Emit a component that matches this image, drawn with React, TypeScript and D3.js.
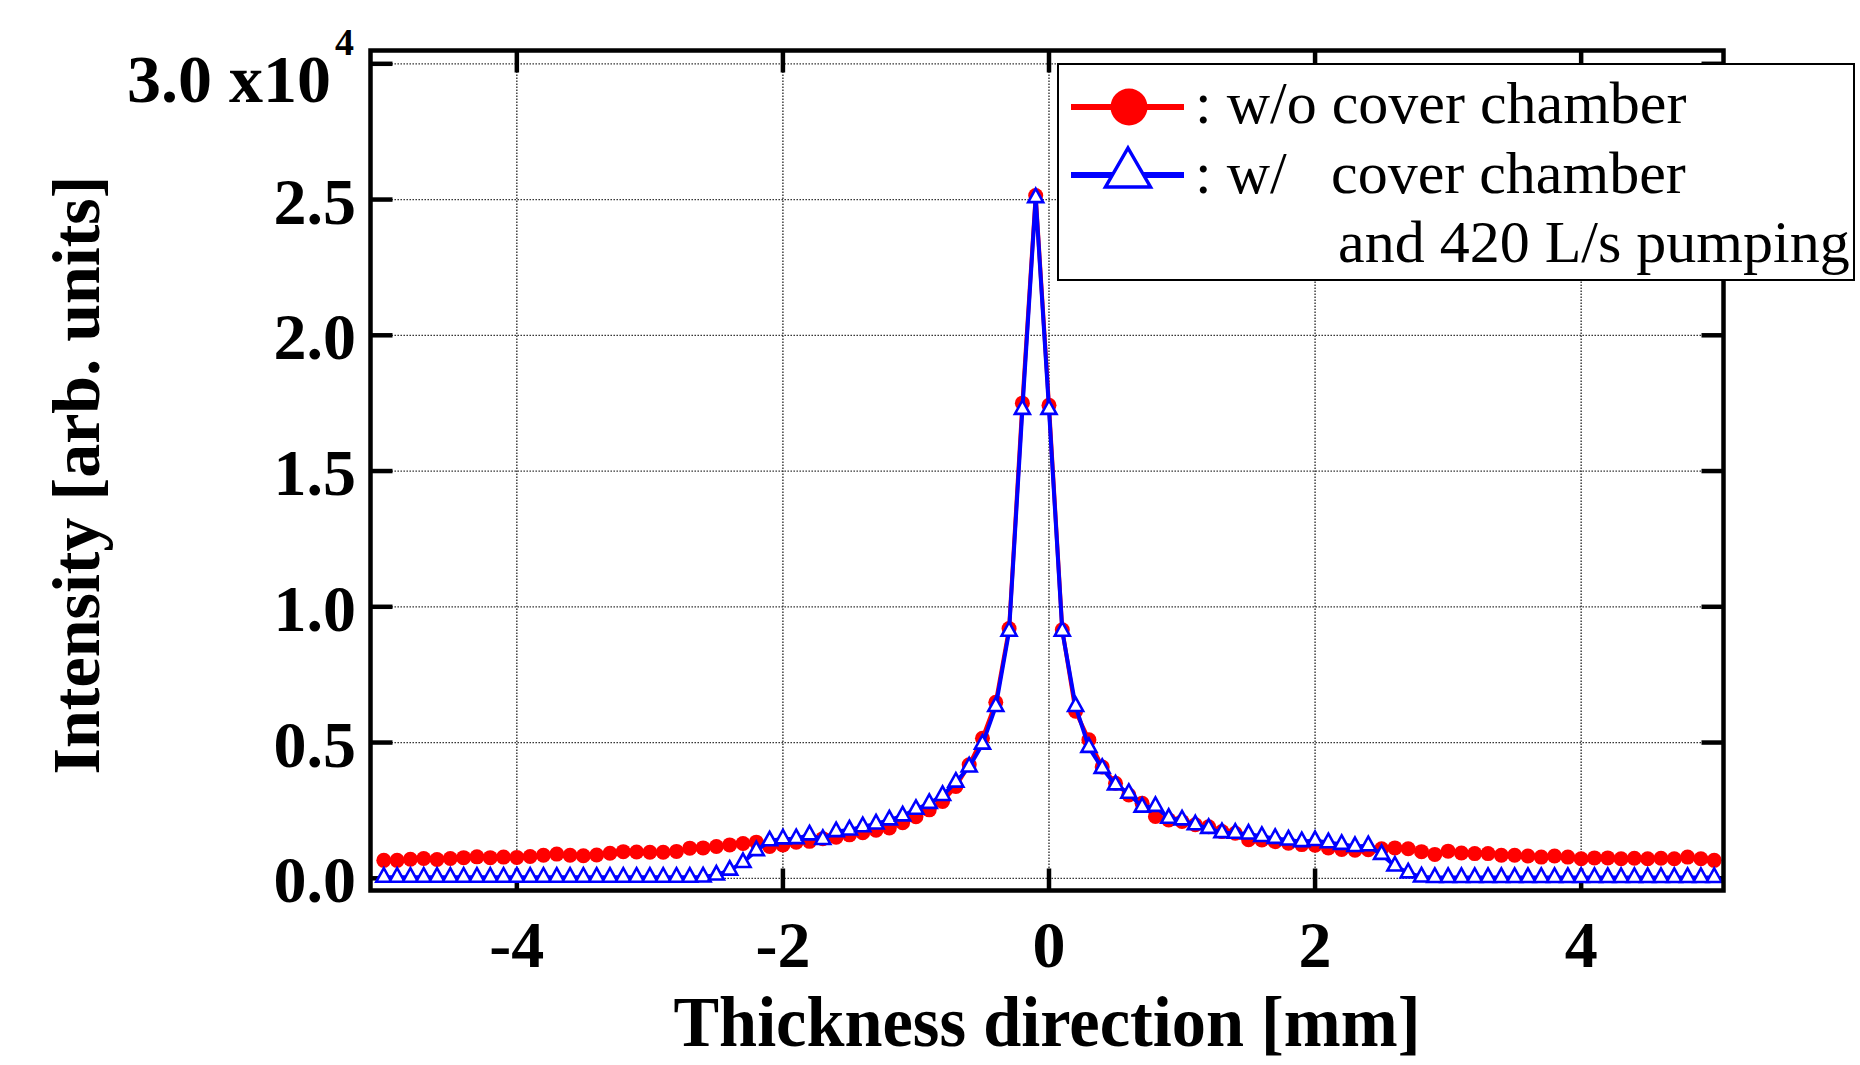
import React from "react";
import * as d3 from "d3";

const xValues = [
  -5.0, -4.9, -4.8, -4.7, -4.6, -4.5, -4.4, -4.3, -4.2, -4.1,
  -4.0, -3.9, -3.8, -3.7, -3.6, -3.5, -3.4, -3.3, -3.2, -3.1,
  -3.0, -2.9, -2.8, -2.7, -2.6, -2.5, -2.4, -2.3, -2.2, -2.1,
  -2.0, -1.9, -1.8, -1.7, -1.6, -1.5, -1.4, -1.3, -1.2, -1.1,
  -1.0, -0.9, -0.8, -0.7, -0.6, -0.5, -0.4, -0.3, -0.2, -0.1,
  0.0, 0.1, 0.2, 0.3, 0.4, 0.5, 0.6, 0.7, 0.8, 0.9,
  1.0, 1.1, 1.2, 1.3, 1.4, 1.5, 1.6, 1.7, 1.8, 1.9,
  2.0, 2.1, 2.2, 2.3, 2.4, 2.5, 2.6, 2.7, 2.8, 2.9,
  3.0, 3.1, 3.2, 3.3, 3.4, 3.5, 3.6, 3.7, 3.8, 3.9,
  4.0, 4.1, 4.2, 4.3, 4.4, 4.5, 4.6, 4.7, 4.8, 4.9,
  5.0,
];

// intensity in units of 1e4
const withoutCover = [
  0.066, 0.066, 0.070, 0.073, 0.069, 0.073, 0.076, 0.079, 0.076, 0.078,
  0.077, 0.080, 0.085, 0.089, 0.085, 0.083, 0.086, 0.092, 0.098, 0.097,
  0.096, 0.096, 0.099, 0.111, 0.112, 0.117, 0.123, 0.128, 0.133, 0.117,
  0.123, 0.133, 0.136, 0.146, 0.151, 0.160, 0.168, 0.177, 0.185, 0.205,
  0.227, 0.252, 0.283, 0.338, 0.418, 0.516, 0.648, 0.920, 1.750, 2.515,
  1.742, 0.915, 0.615, 0.510, 0.410, 0.350, 0.307, 0.276, 0.228, 0.215,
  0.209, 0.197, 0.190, 0.172, 0.166, 0.142, 0.141, 0.135, 0.129, 0.124,
  0.122, 0.112, 0.106, 0.103, 0.105, 0.109, 0.112, 0.109, 0.098, 0.088,
  0.100, 0.093, 0.091, 0.091, 0.085, 0.085, 0.082, 0.078, 0.082, 0.078,
  0.072, 0.075, 0.075, 0.072, 0.074, 0.072, 0.074, 0.072, 0.078, 0.072,
  0.066,
];

const withCover = [
  0.004, 0.004, 0.004, 0.004, 0.004, 0.004, 0.004, 0.004, 0.004, 0.004,
  0.004, 0.004, 0.004, 0.004, 0.004, 0.004, 0.004, 0.004, 0.004, 0.004,
  0.004, 0.004, 0.004, 0.004, 0.005, 0.012, 0.030, 0.058, 0.102, 0.138,
  0.145, 0.146, 0.160, 0.143, 0.172, 0.178, 0.190, 0.200, 0.215, 0.230,
  0.254, 0.276, 0.305, 0.354, 0.410, 0.494, 0.633, 0.910, 1.727, 2.507,
  1.727, 0.910, 0.633, 0.482, 0.405, 0.344, 0.313, 0.262, 0.265, 0.221,
  0.215, 0.197, 0.184, 0.168, 0.166, 0.163, 0.154, 0.147, 0.141, 0.135,
  0.139, 0.131, 0.125, 0.117, 0.120, 0.088, 0.045, 0.020, 0.005, 0.003,
  0.003, 0.003, 0.003, 0.003, 0.003, 0.003, 0.003, 0.003, 0.003, 0.003,
  0.003, 0.003, 0.003, 0.003, 0.003, 0.003, 0.003, 0.003, 0.003, 0.003,
  0.003,
];

const xTicks = [-4, -2, 0, 2, 4];
const xTickLabels = ["-4", "-2", "0", "2", "4"];
const yTicks = [0, 0.5, 1.0, 1.5, 2.0, 2.5, 3.0];
const yTickLabels = ["0.0", "0.5", "1.0", "1.5", "2.0", "2.5", ""];

const W = 1860;
const H = 1065;
const L = 370.5, R = 1723.5, T = 50.5, B = 890.5;

const SERIF = "'Liberation Serif', 'Times New Roman', serif";

export default function App() {
  const x = d3.scaleLinear().domain([-5.10, 5.07]).range([L, R]);
  const y = d3.scaleLinear().domain([-0.045, 3.049]).range([B, T]);

  const redPts = xValues.map((v, i) => [x(v), y(withoutCover[i])] as [number, number]);
  const bluePts = xValues.map((v, i) => [x(v), y(withCover[i])] as [number, number]);
  const line = d3.line<[number, number]>();

  const tri = (cx: number, cy: number, w: number, h: number) =>
    `M${cx},${cy - (2 * h) / 3}L${cx + w / 2},${cy + h / 3}L${cx - w / 2},${cy + h / 3}Z`;

  const tickLen = 22;

  return (
    <svg
      width={W}
      height={H}
      style={{ position: "absolute", left: 0, top: 0, background: "#fff" }}
      xmlns="http://www.w3.org/2000/svg"
    >
      <rect x={0} y={0} width={W} height={H} fill="#fff" />
      {/* grid */}
      <g stroke="#222" strokeWidth={1.3} strokeDasharray="1.4,1.6">
        {xTicks.map((t) => (
          <line key={"gx" + t} x1={x(t)} x2={x(t)} y1={T} y2={B} />
        ))}
        {yTicks.map((t) => (
          <line key={"gy" + t} x1={L} x2={R} y1={y(t)} y2={y(t)} />
        ))}
      </g>
      {/* ticks */}
      <g stroke="#000" strokeWidth={4.5}>
        {xTicks.map((t) => (
          <g key={"tx" + t}>
            <line x1={x(t)} x2={x(t)} y1={B} y2={B - tickLen} />
            <line x1={x(t)} x2={x(t)} y1={T} y2={T + tickLen} />
          </g>
        ))}
        {yTicks.map((t) => (
          <g key={"ty" + t}>
            <line x1={L} x2={L + tickLen} y1={y(t)} y2={y(t)} />
            <line x1={R} x2={R - tickLen} y1={y(t)} y2={y(t)} />
          </g>
        ))}
      </g>
      {/* data: without cover chamber */}
      <path d={line(redPts) || ""} fill="none" stroke="#ff0000" strokeWidth={4} strokeLinejoin="round" />
      <g fill="#ff0000">
        {redPts.map((p, i) => (
          <circle key={"r" + i} cx={p[0]} cy={p[1]} r={7.5} />
        ))}
      </g>
      {/* data: with cover chamber */}
      <path d={line(bluePts) || ""} fill="none" stroke="#0000ff" strokeWidth={4} strokeLinejoin="round" />
      <g fill="#fff" stroke="#0000ff" strokeWidth={2.6} strokeLinejoin="miter">
        {bluePts.map((p, i) => (
          <path key={"b" + i} d={tri(p[0], p[1], 15, 13.5)} />
        ))}
      </g>
      {/* frame */}
      <rect x={L} y={T} width={R - L} height={B - T} fill="none" stroke="#000" strokeWidth={4.5} />
      {/* tick labels */}
      <g fontFamily={SERIF} fontWeight="bold" fontSize={66} fill="#000">
        {xTicks.map((t, i) => (
          <text key={"lx" + t} x={x(t)} y={967} textAnchor="middle">
            {xTickLabels[i]}
          </text>
        ))}
        {yTicks.map((t, i) =>
          yTickLabels[i] ? (
            <text key={"ly" + t} x={356} y={y(t) + 24} textAnchor="end">
              {yTickLabels[i]}
            </text>
          ) : null
        )}
        <text x={127} y={102} fontSize={68}>3.0 x10</text>
        <text x={335} y={55} fontSize={38}>4</text>
      </g>
      {/* axis titles */}
      <text
        x={1047}
        y={1046}
        textAnchor="middle"
        fontFamily={SERIF}
        fontWeight="bold"
        fontSize={72}
        textLength={747}
        lengthAdjust="spacingAndGlyphs"
      >
        Thickness direction [mm]
      </text>
      <text
        transform="translate(99,475) rotate(-90)"
        textAnchor="middle"
        fontFamily={SERIF}
        fontWeight="bold"
        fontSize={68}
      >
        Intensity [arb. units]
      </text>
      {/* legend */}
      <rect x={1058} y={64} width={796} height={216} fill="#fff" stroke="#000" strokeWidth={2} />
      <line x1={1071} x2={1184} y1={107} y2={107} stroke="#ff0000" strokeWidth={6} />
      <circle cx={1129} cy={107} r={18.5} fill="#ff0000" />
      <line x1={1071} x2={1184} y1={175} y2={175} stroke="#0000ff" strokeWidth={6} />
      <path d={tri(1128, 174, 45, 39)} fill="#fff" stroke="#0000ff" strokeWidth={3.5} />
      <g fontFamily={SERIF} fontSize={60} fill="#000">
        <text x={1195} y={123}>: w/o cover chamber</text>
        <text x={1195} y={193}>: w/</text>
        <text x={1331} y={193}>cover chamber</text>
        <text x={1338} y={262}>and 420 L/s pumping</text>
      </g>
    </svg>
  );
}
